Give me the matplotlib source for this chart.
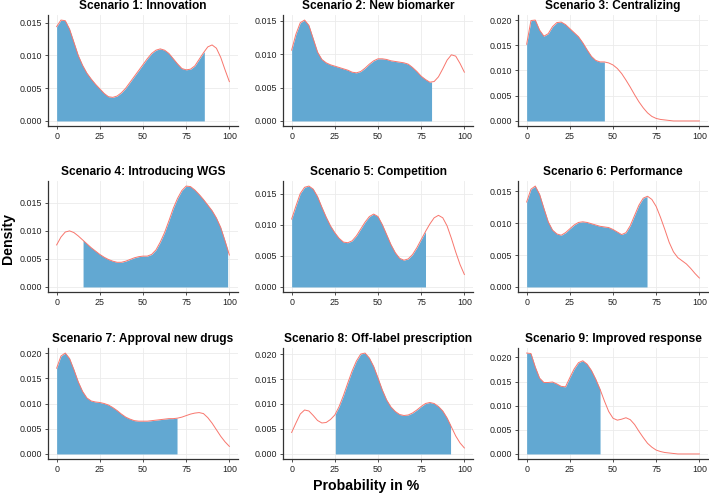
import numpy as np
import matplotlib
matplotlib.use("Agg")
import matplotlib.pyplot as plt

plt.rcParams['font.family'] = ['Liberation Sans', 'DejaVu Sans']

x = np.arange(0, 100.1, 2.5)

titles = ["Scenario 1: Innovation", "Scenario 2: New biomarker", "Scenario 3: Centralizing",
          "Scenario 4: Introducing WGS", "Scenario 5: Competition", "Scenario 6: Performance",
          "Scenario 7: Approval new drugs", "Scenario 8: Off-label prescription",
          "Scenario 9: Improved response"]

dens1 = [0.0144, 0.0154, 0.0153, 0.0140, 0.0120, 0.0100, 0.0085, 0.0073, 0.0064, 0.0056,
         0.0049, 0.0042, 0.0037, 0.0036, 0.0038, 0.0043, 0.0050, 0.0059, 0.0068, 0.0077,
         0.0086, 0.0095, 0.0103, 0.0108, 0.0110, 0.0108, 0.0103, 0.0095, 0.0087, 0.0080,
         0.0078, 0.0079, 0.0084, 0.0094, 0.0104, 0.0113, 0.0116, 0.0111, 0.0097, 0.0078, 0.0060]
dens2 = [0.0106, 0.0130, 0.0147, 0.0151, 0.0143, 0.0123, 0.0103, 0.0092, 0.0087, 0.0084,
         0.0082, 0.0080, 0.0078, 0.0076, 0.0073, 0.0072, 0.0074, 0.0079, 0.0085, 0.0090,
         0.0093, 0.0093, 0.0092, 0.0090, 0.0089, 0.0088, 0.0087, 0.0085, 0.0080, 0.0074,
         0.0067, 0.0062, 0.0058, 0.0059, 0.0066, 0.0078, 0.0091, 0.0099, 0.0097, 0.0086, 0.0073]
dens3 = [0.0152, 0.0199, 0.0200, 0.0180, 0.0168, 0.0173, 0.0187, 0.0195, 0.0196, 0.0191,
         0.0183, 0.0175, 0.0167, 0.0155, 0.0141, 0.0128, 0.0120, 0.0117, 0.0117, 0.0115,
         0.0111, 0.0104, 0.0094, 0.0081, 0.0067, 0.0052, 0.0038, 0.0026, 0.0016, 0.0009,
         0.0005, 0.0003, 0.0002, 0.0001, 0.0000, 0.0000, 0.0000, 0.0000, 0.0000, 0.0000, 0.0000]
dens4 = [0.0075, 0.0089, 0.0098, 0.0100, 0.0097, 0.0091, 0.0084, 0.0077, 0.0070, 0.0064,
         0.0058, 0.0053, 0.0049, 0.0046, 0.0044, 0.0044, 0.0046, 0.0049, 0.0052, 0.0054,
         0.0055, 0.0055, 0.0058, 0.0066, 0.0080, 0.0097, 0.0118, 0.0140, 0.0158, 0.0172,
         0.0180, 0.0179, 0.0173, 0.0165, 0.0156, 0.0146, 0.0136, 0.0123, 0.0106, 0.0082, 0.0057]
dens5 = [0.0109, 0.0130, 0.0150, 0.0160, 0.0162, 0.0157, 0.0145, 0.0128, 0.0112, 0.0098,
         0.0087, 0.0078, 0.0072, 0.0071, 0.0074, 0.0082, 0.0093, 0.0104, 0.0113, 0.0117,
         0.0113, 0.0100, 0.0084, 0.0068, 0.0055, 0.0046, 0.0043, 0.0045, 0.0052, 0.0063,
         0.0076, 0.0089, 0.0101, 0.0111, 0.0115, 0.0111, 0.0098, 0.0078, 0.0056, 0.0036, 0.0020]
dens6 = [0.0133, 0.0153, 0.0158, 0.0145, 0.0123, 0.0102, 0.0089, 0.0083, 0.0081, 0.0085,
         0.0091, 0.0097, 0.0101, 0.0102, 0.0101, 0.0099, 0.0097, 0.0095, 0.0094, 0.0093,
         0.0090, 0.0086, 0.0082, 0.0085, 0.0096, 0.0112, 0.0128, 0.0139, 0.0142, 0.0137,
         0.0126, 0.0109, 0.0090, 0.0070, 0.0055, 0.0046, 0.0041, 0.0036, 0.0029, 0.0021, 0.0014]
dens7 = [0.0170, 0.0194, 0.0200, 0.0189, 0.0167, 0.0143, 0.0124, 0.0111, 0.0105, 0.0103,
         0.0102, 0.0100, 0.0097, 0.0092, 0.0086, 0.0079, 0.0073, 0.0069, 0.0066, 0.0065,
         0.0065, 0.0065, 0.0066, 0.0067, 0.0068, 0.0069, 0.0070, 0.0070, 0.0071, 0.0073,
         0.0076, 0.0079, 0.0081, 0.0082, 0.0080, 0.0072, 0.0061, 0.0048, 0.0035, 0.0024, 0.0015]
dens8 = [0.0043, 0.0062, 0.0080, 0.0088, 0.0086, 0.0077, 0.0067, 0.0062, 0.0063, 0.0069,
         0.0078, 0.0095, 0.0117, 0.0142, 0.0166, 0.0186, 0.0200, 0.0202, 0.0192, 0.0175,
         0.0152, 0.0128, 0.0108, 0.0094, 0.0085, 0.0079, 0.0077, 0.0078, 0.0082, 0.0088,
         0.0095, 0.0101, 0.0103, 0.0101, 0.0095, 0.0086, 0.0072, 0.0054, 0.0036, 0.0022, 0.0012]
dens9 = [0.0209, 0.0208, 0.0180, 0.0157, 0.0148, 0.0148, 0.0149, 0.0145, 0.0140, 0.0139,
         0.0158, 0.0176, 0.0189, 0.0193, 0.0186, 0.0173, 0.0155, 0.0134, 0.0110, 0.0088,
         0.0074, 0.0070, 0.0072, 0.0075, 0.0071, 0.0061, 0.0047, 0.0034, 0.0022, 0.0014,
         0.0008, 0.0005, 0.0003, 0.0002, 0.0001, 0.0000, 0.0000, 0.0000, 0.0000, 0.0000, 0.0000]

# shaded interval (lower, upper) for each scenario
lo = [0, 0, 0, 15.3, 0, 0, 0, 25.3, 0]
hi = [85.5, 81, 45, 99, 77.5, 69.7, 69.7, 92, 42.5]

curves = [dens1, dens2, dens3, dens4, dens5, dens6, dens7, dens8, dens9]

fig = plt.figure(figsize=(7.09, 4.96), dpi=100)
lefts = [48, 283, 518]
tops = [15, 181, 348]
W, H = 190, 111

for i, (t, d) in enumerate(zip(titles, curves)):
    r, c = divmod(i, 3)
    ax = fig.add_axes([lefts[c] / 709, 1 - (tops[r] + H) / 496, W / 709, H / 496])
    d = np.array(d)
    m = (x >= lo[i] - 1e-9) & (x <= hi[i] + 1e-9)
    xs = np.concatenate([[lo[i]], x[m], [hi[i]]])
    ys = np.interp(xs, x, d)
    ax.fill_between(xs, 0, ys, color="#62A8D2", lw=0, zorder=2)
    ax.plot(x, d, color="#F8766D", lw=0.7, zorder=3)
    top = d.max()
    ax.set_xlim(-5, 105)
    ax.set_ylim(-0.05 * top, top * 1.05)
    ax.set_xticks([0, 25, 50, 75, 100])
    step = 0.005
    ax.set_yticks(np.arange(0, top + 1e-9, step))
    ax.yaxis.set_major_formatter(matplotlib.ticker.FormatStrFormatter("%.3f"))
    ax.grid(True, color="#EBEBEB", lw=0.6, zorder=0)
    ax.set_axisbelow(True)
    for s in ["top", "right"]:
        ax.spines[s].set_visible(False)
    for s in ["left", "bottom"]:
        ax.spines[s].set_color("#333333")
        ax.spines[s].set_linewidth(0.9)
    ax.tick_params(labelsize=6.4, length=2.5, width=0.6, color="#333333",
                   labelcolor="#222222", pad=2)
    ax.set_title(t, fontsize=8.6, fontweight="bold", pad=4)

fig.text(0.516, 1 - 486 / 496, "Probability in %", ha="center", va="center",
         fontsize=10.2, fontweight="bold")
fig.text(8 / 709, 1 - 238 / 496, "Density", ha="center", va="center",
         rotation=90, fontsize=10.2, fontweight="bold")

fig.savefig("out.png", dpi=100)
